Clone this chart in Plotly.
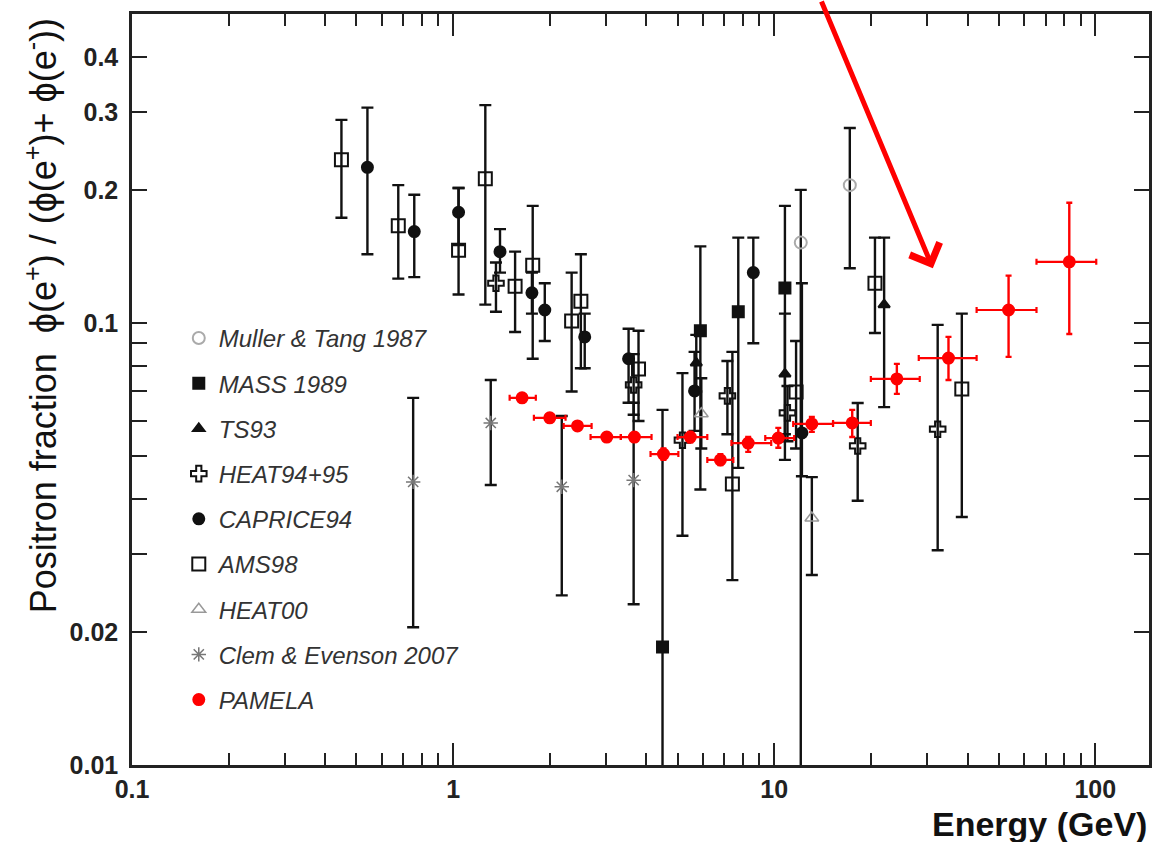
import numpy as np
import plotly.graph_objects as go

# ---------------- data ----------------
muller_E = [12.1, 17.2]
muller_f = [0.152, 0.205]
muller_hi = [0.200, 0.276]
muller_lo = [0.001, 0.133]

mass_E = [4.49, 5.89, 7.73, 10.8]
mass_f = [0.0185, 0.096, 0.106, 0.120]
mass_hi = [0.0636, 0.149, 0.156, 0.184]
mass_lo = [0.001, 0.042, 0.047, 0.049]

ts93_E = [5.72, 10.8, 22.0]
ts93_f = [0.0812, 0.0767, 0.110]
ts93_hi = [0.094, 0.105, 0.156]
ts93_lo = [0.070, 0.056, 0.0645]

heat9495_E = [1.36, 3.65, 5.18, 7.15, 11.0, 18.2, 32.3]
heat9495_f = [0.123, 0.0724, 0.0543, 0.0684, 0.0626, 0.0527, 0.0575]
heat9495_hi = [0.137, 0.085, 0.077, 0.082, 0.072, 0.0659, 0.099]
heat9495_lo = [0.106, 0.062, 0.033, 0.056, 0.054, 0.0396, 0.0306]

caprice_E = [0.541, 0.757, 1.04, 1.40, 1.76, 1.93, 2.57, 3.52, 5.65, 8.61, 12.2]
caprice_f = [0.225, 0.161, 0.178, 0.145, 0.117, 0.107, 0.093, 0.083, 0.0702, 0.130, 0.0564]
caprice_hi = [0.307, 0.195, 0.202, 0.163, 0.130, 0.123, 0.105, 0.097, 0.086, 0.156, 0.123]
caprice_lo = [0.143, 0.127, 0.150, 0.130, 0.105, 0.091, 0.079, 0.066, 0.057, 0.090, 0.045]

ams_E = [0.449, 0.675, 1.04, 1.26, 1.56, 1.77, 2.34, 2.50, 3.78, 7.41, 11.7, 20.6, 38.4]
ams_f = [0.234, 0.166, 0.146, 0.212, 0.121, 0.135, 0.101, 0.112, 0.0787, 0.0432, 0.0698, 0.123, 0.0709]
ams_hi = [0.288, 0.205, 0.202, 0.311, 0.145, 0.184, 0.130, 0.143, 0.096, 0.086, 0.091, 0.156, 0.105]
ams_lo = [0.173, 0.126, 0.116, 0.110, 0.0954, 0.083, 0.070, 0.079, 0.060, 0.0262, 0.052, 0.0949, 0.0364]

heat00_E = [5.93, 13.1]
heat00_f = [0.0623, 0.0362]
heat00_hi = [0.075, 0.0448]
heat00_lo = [0.052, 0.0269]

clem_E = [0.751, 1.31, 2.18, 3.65]
clem_f = [0.0437, 0.0594, 0.0426, 0.0441]
clem_hi = [0.0677, 0.0743, 0.0616, 0.066]
clem_lo = [0.0205, 0.0430, 0.0242, 0.0231]

pamela_E = [1.64, 2.00, 2.44, 3.01, 3.67, 4.52, 5.48, 6.80, 8.30, 10.3, 13.1, 17.5, 24.1, 34.9, 53.7, 83.0]
pamela_Elo = [1.50, 1.785, 2.21, 2.68, 3.33, 4.12, 5.00, 6.19, 7.36, 9.38, 11.46, 15.25, 20.0, 28.2, 42.7, 65.6]
pamela_Ehi = [1.81, 2.24, 2.70, 3.33, 4.15, 5.03, 6.19, 7.46, 9.79, 11.54, 15.25, 20.0, 28.4, 42.7, 65.6, 100.7]
pamela_f = [0.0677, 0.0610, 0.0585, 0.0552, 0.0552, 0.0505, 0.0552, 0.049, 0.0535, 0.0549, 0.0591, 0.0594, 0.0747, 0.0833, 0.107, 0.1375]
pamela_hi = [0.0687, 0.0620, 0.0595, 0.0562, 0.0564, 0.0520, 0.0567, 0.0505, 0.0552, 0.0579, 0.0613, 0.0636, 0.0808, 0.093, 0.128, 0.187]
pamela_lo = [0.0667, 0.0600, 0.0575, 0.0542, 0.0540, 0.0490, 0.0537, 0.0477, 0.0511, 0.0522, 0.0567, 0.0552, 0.0691, 0.0743, 0.0838, 0.0944]

x_major = [0.1, 1, 10, 100]
x_major_text = ["0.1", "1", "10", "100"]
y_major = [0.01, 0.02, 0.1, 0.2, 0.3, 0.4]
y_major_text = ["0.01", "0.02", "0.1", "0.2", "0.3", "0.4"]

# ---------------- figure ----------------
FONT = "Liberation Sans, Arial, sans-serif"
fig = go.Figure()


def add_series(name, E, f, hi, lo, symbol, size, color, lcolor=None, lwidth=2,
               bar_color="#111", xlo=None, xhi=None, capw=6):
    E = np.array(E, dtype=float)
    f = np.array(f, dtype=float)
    hi = np.array(hi, dtype=float)
    lo = np.array(lo, dtype=float)
    err_x = None
    if xlo is not None:
        err_x = dict(type="data", symmetric=False,
                     array=np.array(xhi) - E, arrayminus=E - np.array(xlo),
                     color=bar_color, thickness=2.2, width=capw)
    fig.add_trace(go.Scatter(
        x=E, y=f, mode="markers", name="<i>" + name + "</i>",
        legendgroup=name,
        marker=dict(symbol=symbol, size=size, color=color,
                    line=dict(color=lcolor if lcolor else color, width=lwidth)),
        error_y=dict(type="data", symmetric=False, array=hi - f, arrayminus=f - lo,
                     color=bar_color, thickness=2.4, width=capw),
        error_x=err_x,
    ))


add_series("Muller & Tang 1987", muller_E, muller_f, muller_hi, muller_lo,
           "circle-open", 12, "#aaaaaa", lwidth=2)
add_series("MASS 1989", mass_E, mass_f, mass_hi, mass_lo, "square", 11, "#111")
add_series("TS93", ts93_E, ts93_f, ts93_hi, ts93_lo, "triangle-up", 10, "#111")
add_series("HEAT94+95", heat9495_E, heat9495_f, heat9495_hi, heat9495_lo,
           "cross-open", 13, "#111", lwidth=2)
add_series("CAPRICE94", caprice_E, caprice_f, caprice_hi, caprice_lo, "circle", 11, "#111")
add_series("AMS98", ams_E, ams_f, ams_hi, ams_lo, "square-open", 13, "#111", lwidth=2)
add_series("HEAT00", heat00_E, heat00_f, heat00_hi, heat00_lo,
           "triangle-up-open", 12, "#999999", lwidth=1.5)
add_series("Clem & Evenson 2007", clem_E, clem_f, clem_hi, clem_lo,
           "asterisk-open", 12, "#777777", lwidth=1.5)
add_series("PAMELA", pamela_E, pamela_f, pamela_hi, pamela_lo, "circle", 11, "#ff0000",
           bar_color="#ff0000", xlo=pamela_Elo, xhi=pamela_Ehi, capw=3)

xr = [-1, np.log10(147)]
yr = [-2, np.log10(0.5)]

axis_common = dict(showgrid=False, zeroline=False, showline=True, linecolor="#222",
                   linewidth=2.5, ticks="inside", tickcolor="#222", tickwidth=2,
                   mirror="allticks",
                   tickfont=dict(family=FONT, size=25, color="#222", weight="bold"))

fig.update_layout(
    width=1157, height=842,
    paper_bgcolor="white", plot_bgcolor="white",
    margin=dict(l=132, r=5, t=14, b=77),
    showlegend=True,
    legend=dict(x=0.046, y=0.598, xanchor="left", yanchor="top",
                bgcolor="rgba(0,0,0,0)", borderwidth=0,
                font=dict(family=FONT, size=24, color="#333"),
                tracegroupgap=11, traceorder="grouped", itemwidth=30),
    xaxis=dict(type="log", range=xr, tickmode="array", tickvals=x_major,
               ticktext=x_major_text, ticklen=22,
               minor=dict(tickmode="array",
                          tickvals=[0.2, 0.3, 0.4, 0.5, 0.6, 0.7, 0.8, 0.9,
                                    2, 3, 4, 5, 6, 7, 8, 9,
                                    20, 30, 40, 50, 60, 70, 80, 90],
                          ticks="inside", ticklen=12, tickcolor="#222", tickwidth=2),
               **axis_common),
    yaxis=dict(type="log", range=yr, tickmode="array", tickvals=y_major,
               ticktext=y_major_text, ticklen=15, ticklabelstandoff=6,
               minor=dict(tickmode="array",
                          tickvals=[0.03, 0.04, 0.05, 0.06, 0.07, 0.08, 0.09],
                          ticks="inside", ticklen=15, tickcolor="#222", tickwidth=2),
               **axis_common),
    yaxis2=dict(type="log", range=yr, overlaying="y", side="left", anchor="x",
                tickmode="array", tickvals=[0.1], ticks="inside", ticklen=30,
                tickcolor="#222", tickwidth=2, showticklabels=False,
                showgrid=False, zeroline=False, showline=False, mirror="ticks"),
)

# axis titles
fig.add_annotation(
    text="Positron fraction  ϕ(e<sup>+</sup>) / (ϕ(e<sup>+</sup>)+ ϕ(e<sup>-</sup>))",
    xref="paper", yref="paper", x=-0.090, y=0.598, xanchor="center", yanchor="middle",
    textangle=-90, showarrow=False, font=dict(family=FONT, size=36, color="#111"))
fig.add_annotation(
    text="<b>Energy (GeV)</b>", xref="paper", yref="paper", x=1.0, y=-0.079,
    xanchor="right", yanchor="middle", showarrow=False,
    font=dict(family=FONT, size=34, color="#111"))

# red arrow
fig.add_annotation(
    x=np.log10(31.2), y=np.log10(0.133), xref="x", yref="y", text="",
    showarrow=True, ax=-112, ay=-278, arrowcolor="#ff0000", arrowwidth=5,
    arrowhead=4, arrowsize=1.25)

fig.write_html("out.html")
